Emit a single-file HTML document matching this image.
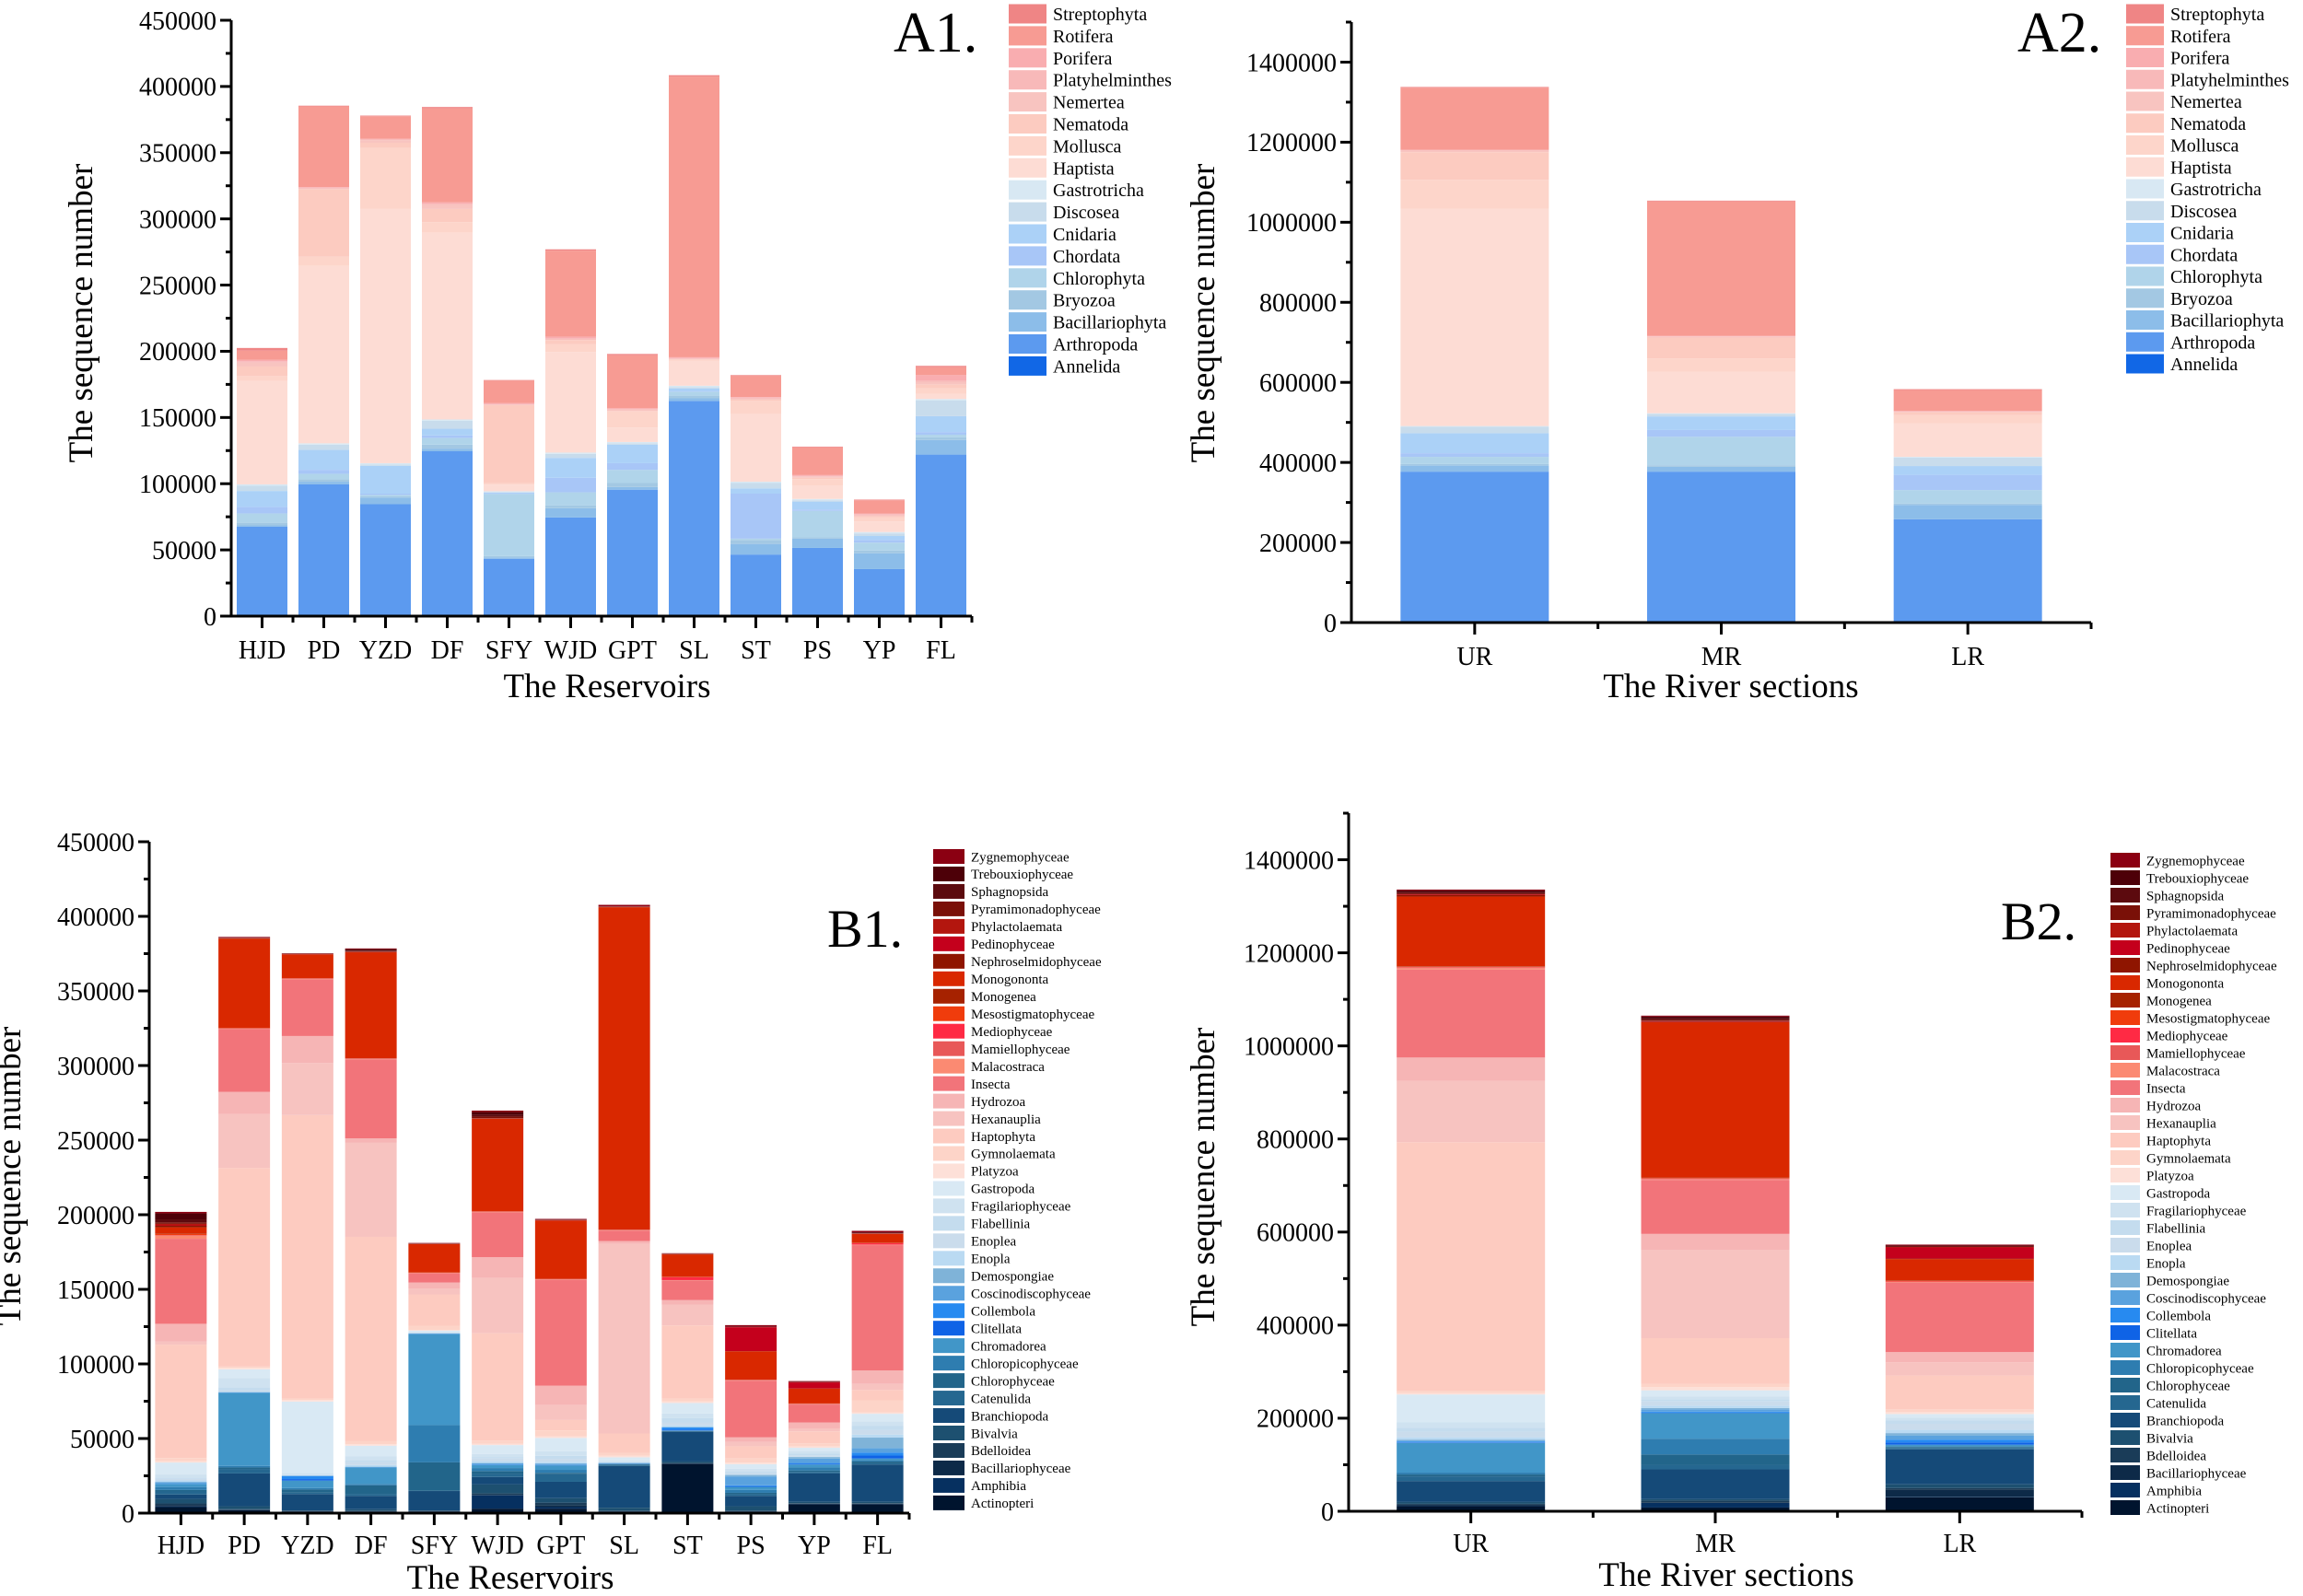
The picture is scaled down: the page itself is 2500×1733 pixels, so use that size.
<!DOCTYPE html>
<html><head><meta charset="utf-8"><style>
html,body{margin:0;padding:0;background:#fff;}
svg{display:block;font-family:"Liberation Serif",serif;}
</style></head><body>
<svg id="fig" width="2500" height="1733" viewBox="0 0 2500 1733" xmlns="http://www.w3.org/2000/svg"></svg>
<script>
// ---------- A1 data (thousands) ----------
const a1Sites = ["HJD","PD","YZD","DF","SFY","WJD","GPT","SL","ST","PS","YP","FL"];
const a1Annelida        = [0.5,0.5,0.5,0.5,0.3,0.5,0.5,0.5,0.5,0.5,0.5,1];
const a1Arthropoda      = [67,99,84,124,43,74,95,162,46,51,35,121];
const a1Bacillariophyta = [1,2,5,2,1,7,2,2,8,7,12,11];
const a1Bryozoa         = [2,2,1,3,1,2,3,2,3,1,2,2];
const a1Chlorophyta     = [7,4,1,5,47,10,10,3,1,20,6,2];
const a1Chordata        = [5,3,1,2,0.5,11,5,0.5,34,1,2,2];
const a1Cnidaria        = [12,15,21,5,0.5,15,14,2,4,6,3,12];
const a1Discosea        = [4,4,1,6,0.5,3,1,1,4,1,2,12];
const a1Gastrotricha    = [1,1,1,1,0.5,1,1,1,1,1,1,1];
const a1Haptista        = [78,134,192,141,5,76,11,19,51,10,8,4];
const a1Mollusca        = [4,7,46,8,1,6,12,0.5,10,5,3,4];
const a1Nematoda        = [7,51,4,10,59,3,0.5,0.5,1,1,1,3];
const a1Nemertea        = [3,0.5,2,3,0.5,0.5,1,0.5,1,1,1,2];
const a1Platyhelminthes = [1,0.5,0.5,1,0.5,1,0.5,0.5,0.5,0.5,0.5,1];
const a1Porifera        = [1,0.5,0.5,1,0.5,1,0.5,0.5,0.5,0.5,0.5,4];
const a1Rotifera        = [7,61,17,71,17,65,40,212,16,21,10,6];
const a1Streptophyta    = [2,0.5,0.5,1,0.5,1,1,1,0.5,0.5,0.5,1];
// ---------- A2 data ----------
const a2Sites = ["UR","MR","LR"];
const a2Annelida        = [1,1,1];
const a2Arthropoda      = [376,376,257];
const a2Bacillariophyta = [15,12,36];
const a2Bryozoa         = [4,4,3];
const a2Chlorophyta     = [18,71,34];
const a2Chordata        = [9,17,38];
const a2Cnidaria        = [50,34,22];
const a2Discosea        = [16,6,21];
const a2Gastrotricha    = [2,2,2];
const a2Haptista        = [543,104,84];
const a2Mollusca        = [72,33,20];
const a2Nematoda        = [69,52,7];
const a2Nemertea        = [4,2,2];
const a2Platyhelminthes = [1,1,1];
const a2Porifera        = [1,1,1];
const a2Rotifera        = [155,336,52];
const a2Streptophyta    = [2,2,2];
const aNames  = ["Annelida","Arthropoda","Bacillariophyta","Bryozoa","Chlorophyta","Chordata","Cnidaria","Discosea","Gastrotricha","Haptista","Mollusca","Nematoda","Nemertea","Platyhelminthes","Porifera","Rotifera","Streptophyta"];
const aColors = ["#1167e6","#5c9aef","#8cbde9","#a3c8e3","#b0d4ea","#a8c6f7","#abd1f7","#c8dcec","#d8e8f3","#fddcd4","#fdd5ca","#fccbc0","#f8c4c0","#f8b9b9","#f9adb0","#f79b93","#ef8585"];
const a1Series = [a1Annelida,a1Arthropoda,a1Bacillariophyta,a1Bryozoa,a1Chlorophyta,a1Chordata,a1Cnidaria,a1Discosea,a1Gastrotricha,a1Haptista,a1Mollusca,a1Nematoda,a1Nemertea,a1Platyhelminthes,a1Porifera,a1Rotifera,a1Streptophyta];
const a2Series = [a2Annelida,a2Arthropoda,a2Bacillariophyta,a2Bryozoa,a2Chlorophyta,a2Chordata,a2Cnidaria,a2Discosea,a2Gastrotricha,a2Haptista,a2Mollusca,a2Nematoda,a2Nemertea,a2Platyhelminthes,a2Porifera,a2Rotifera,a2Streptophyta];
// ---------- B data (bottom-up order) ----------
const bNames = ["Actinopteri","Amphibia","Bacillariophyceae","Bdelloidea","Bivalvia","Branchiopoda","Catenulida","Chlorophyceae","Chloropicophyceae","Chromadorea","Clitellata","Collembola","Coscinodiscophyceae","Demospongiae","Enopla","Enoplea","Flabellinia","Fragilariophyceae","Gastropoda","Platyzoa","Gymnolaemata","Haptophyta","Hexanauplia","Hydrozoa","Insecta","Malacostraca","Mamiellophyceae","Mediophyceae","Mesostigmatophyceae","Monogenea","Monogononta","Nephroselmidophyceae","Pedinophyceae","Phylactolaemata","Pyramimonadophyceae","Sphagnopsida","Trebouxiophyceae","Zygnemophyceae"];
const bColors = ["#00142e","#063060","#0d2a48","#1a3c58","#1d5070","#154a78","#256790","#22658a","#2e7db0","#4196c8","#0f63e6","#278af0","#5aa2de","#7fb3d8","#badaf2","#cadcec","#c4dcee","#cfe2f0","#d9e9f4","#fde0d8","#fdd4c8","#fdcbc0","#f7c3c0","#f6b5b5","#f2747a","#fb8a72","#e85858","#ff2a44","#f03c0c","#a62200","#d92800","#8f1500","#c4001c","#b3160e","#7a1008","#5c0a0e","#4d0008","#8b0012"];
const b1Actinopteri = [4,2,1,1,1,3,3,1,33,1,6,6];
const b1Amphibia = [0.5,0.2,0.2,0.2,0.2,9,1,0.2,0.2,0.2,0.2,0.2];
const b1Bacillariophyceae = [1,0.2,0.2,0.2,0.2,0.2,1,0.2,0.2,0.2,0.2,0.2];
const b1Bdelloidea = [1,0.2,0.2,0.2,0.2,1,2,0.2,0.2,0.2,0.2,0.2];
const b1Bivalvia = [3,2,0.2,1,0.2,6,3,2,1,3,1,1];
const b1Branchiopoda = [3,22,11,9,13,5,11,28,20,7,19,25];
const b1Catenulida = [2,3,1,1,0.2,2,5,1,0.2,1,1,1];
const b1Chlorophyceae = [1,1,2,6,19,2,1,0.2,0.2,1,1,1];
const b1Chloropicophyceae = [2,1,1,1,25,2,2,0.2,0.2,2,2,1];
const b1Chromadorea = [2,49,5,11,61,2,3,0.2,0.2,2,2,1];
const b1Clitellata = [0.1,0.1,1,0.1,0.1,0.1,0.1,0.1,0.5,0.5,0.5,2];
const b1Collembola = [0.1,0.1,2,0.1,0.1,0.1,0.1,0.1,1.5,0.5,0.5,2];
const b1Coscinodiscophyceae = [1,0.2,0.2,0.2,0.2,1,1,0.2,0.2,6,3,3];
const b1Demospongiae = [0.2,0.2,0.2,0.2,0.2,0.2,0.2,0.2,0.2,1,1,7];
const b1Enopla = [1,0.2,0.2,1,0.2,1,1,0.2,1,0.2,0.2,2];
const b1Enoplea = [1,1,0.2,2,0.2,2,2,0.2,2,1,1,3];
const b1Flabellinia = [1,2,0.2,1,0.2,1,2,0.2,3,1,1,3];
const b1Fragilariophyceae = [2,6,1,3,0.2,2,3,1,3,2,2,3];
const b1Gastropoda = [8,6,48,7,1,6,9,2,7,3,2,5];
const b1Platyzoa = [1,1,1,1,0.2,1,1,1,1,1,1,1];
const b1Gymnolaemata = [2,1,1,2,3,2,4,2,2,3,2,8];
const b1Haptophyta = [76,133,190,137,21,72,7,13,49,8,8,7];
const b1Hexanauplia = [2,36,35,63,4,37,10,127,14,3,2,4];
const b1Hydrozoa = [12,15,18,3,4,14,13,2,3,3,4,9];
const b1Insecta = [57,42,38,53,6,30,71,7,13,38,12,84];
const b1Malacostraca = [2,0.2,0.2,0.2,0.2,0.2,0.2,0.2,0.2,0.2,0.2,0.2];
const b1Mamiellophyceae = [0.2,0.2,0.2,0.2,0.2,0.2,0.2,0.2,0.2,0.2,0.2,0.2];
const b1Mediophyceae = [0.2,0.1,0.1,0.1,0.1,0.1,0.1,0.1,2,0.1,0.1,1];
const b1Mesostigmatophyceae = [1,0.1,0.1,0.1,0.1,0.1,0.1,0.1,0.1,0.1,0.1,0.1];
const b1Monogenea = [0.3,0.1,0.1,0.1,0.1,0.1,0.1,0.1,0.1,0.1,0.1,0.1];
const b1Monogononta = [4,60,16,71,19,62,39,216,15,19,10,6];
const b1Nephroselmidophyceae = [1,0.1,0.1,0.3,0.1,0.3,0.1,0.1,0.1,0.1,0.1,0.1];
const b1Pedinophyceae = [0.3,0.1,0.1,0.1,0.1,0.1,0.1,0.1,0.1,16,4,0.1];
const b1Phylactolaemata = [1,0.1,0.1,0.1,0.1,0.1,0.1,0.1,0.1,0.1,0.1,0.1];
const b1Pyramimonadophyceae = [1,0.1,0.1,0.3,0.1,1,0.1,0.1,0.1,0.1,0.1,0.1];
const b1Sphagnopsida = [2,0.1,0.1,0.3,0.1,1,0.1,0.1,0.1,0.1,0.1,0.1];
const b1Trebouxiophyceae = [4,0.1,0.1,1,0.1,2,0.1,0.1,0.1,0.1,0.1,0.5];
const b1Zygnemophyceae = [1,0.5,0.2,0.5,0.2,1,0.5,1,0.2,1,0.5,1];
const b2Actinopteri = [11,8,30];
const b2Amphibia = [1,10,1];
const b2Bacillariophyceae = [2,1,16];
const b2Bdelloidea = [2,4,3];
const b2Bivalvia = [4,3,8];
const b2Branchiopoda = [45,64,75];
const b2Catenulida = [10,10,3];
const b2Chlorophyceae = [4,22,2];
const b2Chloropicophyceae = [4,34,2];
const b2Chromadorea = [64,55,3];
const b2Clitellata = [1,1,5];
const b2Collembola = [2,2,6];
const b2Coscinodiscophyceae = [2,5,9];
const b2Demospongiae = [2,3,5];
const b2Enopla = [5,5,7];
const b2Enoplea = [12,9,13];
const b2Flabellinia = [8,5,7];
const b2Fragilariophyceae = [12,6,6];
const b2Gastropoda = [60,13,8];
const b2Platyzoa = [3,7,4];
const b2Gymnolaemata = [5,7,6];
const b2Haptophyta = [534,98,73];
const b2Hexanauplia = [132,190,28];
const b2Hydrozoa = [50,34,22];
const b2Insecta = [189,116,149];
const b2Malacostraca = [3,1,1];
const b2Mamiellophyceae = [1,1,1];
const b2Mediophyceae = [1,1,1];
const b2Mesostigmatophyceae = [1,1,1];
const b2Monogenea = [1,1,1];
const b2Monogononta = [150,334,46];
const b2Nephroselmidophyceae = [3,1,1];
const b2Pedinophyceae = [1,1,24];
const b2Phylactolaemata = [1,1,1];
const b2Pyramimonadophyceae = [2,2,1];
const b2Sphagnopsida = [3,3,1];
const b2Trebouxiophyceae = [3,4,1];
const b2Zygnemophyceae = [2,2,2];
const b1Series = [b1Actinopteri,b1Amphibia,b1Bacillariophyceae,b1Bdelloidea,b1Bivalvia,b1Branchiopoda,b1Catenulida,b1Chlorophyceae,b1Chloropicophyceae,b1Chromadorea,b1Clitellata,b1Collembola,b1Coscinodiscophyceae,b1Demospongiae,b1Enopla,b1Enoplea,b1Flabellinia,b1Fragilariophyceae,b1Gastropoda,b1Platyzoa,b1Gymnolaemata,b1Haptophyta,b1Hexanauplia,b1Hydrozoa,b1Insecta,b1Malacostraca,b1Mamiellophyceae,b1Mediophyceae,b1Mesostigmatophyceae,b1Monogenea,b1Monogononta,b1Nephroselmidophyceae,b1Pedinophyceae,b1Phylactolaemata,b1Pyramimonadophyceae,b1Sphagnopsida,b1Trebouxiophyceae,b1Zygnemophyceae];
const b2Series = [b2Actinopteri,b2Amphibia,b2Bacillariophyceae,b2Bdelloidea,b2Bivalvia,b2Branchiopoda,b2Catenulida,b2Chlorophyceae,b2Chloropicophyceae,b2Chromadorea,b2Clitellata,b2Collembola,b2Coscinodiscophyceae,b2Demospongiae,b2Enopla,b2Enoplea,b2Flabellinia,b2Fragilariophyceae,b2Gastropoda,b2Platyzoa,b2Gymnolaemata,b2Haptophyta,b2Hexanauplia,b2Hydrozoa,b2Insecta,b2Malacostraca,b2Mamiellophyceae,b2Mediophyceae,b2Mesostigmatophyceae,b2Monogenea,b2Monogononta,b2Nephroselmidophyceae,b2Pedinophyceae,b2Phylactolaemata,b2Pyramimonadophyceae,b2Sphagnopsida,b2Trebouxiophyceae,b2Zygnemophyceae];
const ticks450 = [0,50000,100000,150000,200000,250000,300000,350000,400000,450000];
const ticks1400 = [0,200000,400000,600000,800000,1000000,1200000,1400000];

const NS = "http://www.w3.org/2000/svg";
const svg = document.getElementById("fig");
function mk(tag, attrs, parent){
  const e = document.createElementNS(NS, tag);
  for (const k in attrs) e.setAttribute(k, attrs[k]);
  (parent||svg).appendChild(e);
  return e;
}

function chart(c){
  const g = mk("g", {});
  
  
  const y = v => c.y0 - (v / c.yMax) * (c.y0 - c.yTop);
  const band = (c.x1 - c.x0) / c.cats.length;
  const xc = i => c.x0 + band * (i + 0.5);
  c.cats.forEach((cat, i) => {
    let cum = 0;
    c.series.forEach((arr, s) => {
      const v = arr[i] * 1000;
      const r = mk("rect", {x: xc(i) - c.bw/2, y: y(cum + v), width: c.bw, height: Math.max(0, y(cum) - y(cum + v)), fill: c.colors[s]}, g);
      
      
      cum += v;
    });
  });
  const ax = mk("g", {stroke: "#000", "stroke-width": 3}, g);
  
  
  mk("line", {x1: c.x0, y1: c.y0, x2: c.x0, y2: c.yTop}, ax);
  mk("line", {x1: c.x0 - 12, y1: c.y0, x2: c.x1, y2: c.y0}, ax);
  c.ticks.forEach((t) => {
    mk("line", {x1: c.x0 - 12, y1: y(t), x2: c.x0, y2: y(t)}, ax);
    const tx = mk("text", {x: c.x0 - 16, y: y(t) + c.tf*0.35, "font-size": c.tf, "text-anchor": "end", stroke: "none", fill: "#000"}, g);
    tx.textContent = String(t);
    
    
    const mid = t + (c.ticks[1] - c.ticks[0]) / 2;
    if (mid <= c.yMax) mk("line", {x1: c.x0 - 6, y1: y(mid), x2: c.x0, y2: y(mid)}, ax);
  });
  c.cats.forEach((cat, i) => {
    mk("line", {x1: xc(i), y1: c.y0, x2: xc(i), y2: c.y0 + 13}, ax);
    mk("line", {x1: c.x0 + band*(i+1), y1: c.y0, x2: c.x0 + band*(i+1), y2: c.y0 + 7}, ax);
    const tx = mk("text", {x: xc(i), y: c.y0 + c.xlOff, "font-size": c.tf, "text-anchor": "middle"}, g);
    tx.textContent = cat;
    
    
  });
  const xt = mk("text", {x: c.xtX, y: c.xtY, "font-size": 37, "text-anchor": "middle"}, g);
  xt.textContent = c.xTitle;
  
  
  const yt = mk("text", {x: 0, y: 0, "font-size": 37, "text-anchor": "middle", transform: `translate(${c.ytX},${c.ytY}) rotate(-90)`, "xml:space": "preserve"}, g);
  yt.textContent = "The  sequence number";
  
  
  const pl = mk("text", {x: c.plX, y: c.plY, "font-size": c.plF}, g);
  pl.textContent = c.label;
  
  
  const lg = mk("g", {}, g);
  
  
  const n = c.names.length;
  for (let j = 0; j < n; j++) {
    const s = n - 1 - j;
    const cy = c.lgY + j * c.lgStep;
    const sw = mk("rect", {x: c.lgX, y: cy - c.lgH/2, width: c.lgW, height: c.lgH, fill: c.colors[s]}, lg);
    
    
    const lt = mk("text", {x: c.lgX + c.lgW + 7, y: cy + c.lgF*0.35, "font-size": c.lgF}, lg);
    lt.textContent = c.names[s];
    
    
  }
}

chart({id:"a1", cats:a1Sites, series:a1Series, names:aNames, colors:aColors,
  x0:251, x1:1055, y0:669, yTop:22, yMax:450000, ticks:ticks450, bw:55, tf:28, xlOff:46,
  xTitle:"The Reservoirs", xtX:659, xtY:757, ytX:100, ytY:340,
  label:"A1.", plX:970, plY:56, plF:62,
  lgX:1095, lgY:15, lgStep:23.9, lgW:41, lgH:21, lgF:20});
chart({id:"a2", cats:a2Sites, series:a2Series, names:aNames, colors:aColors,
  x0:1467, x1:2270, y0:676, yTop:24, yMax:1500000, ticks:ticks1400, bw:161, tf:28, xlOff:46,
  xTitle:"The River sections", xtX:1879, xtY:757, ytX:1318, ytY:340,
  label:"A2.", plX:2190, plY:56, plF:62,
  lgX:2308, lgY:15, lgStep:23.75, lgW:41, lgH:21, lgF:20});
chart({id:"b1", cats:a1Sites, series:b1Series, names:bNames, colors:bColors,
  x0:162, x1:987, y0:1643, yTop:914, yMax:450000, ticks:ticks450, bw:56, tf:28, xlOff:44,
  xTitle:"The Reservoirs", xtX:554, xtY:1725, ytX:22, ytY:1277,
  label:"B1.", plX:898, plY:1028, plF:58,
  lgX:1013, lgY:930, lgStep:18.97, lgW:34, lgH:16, lgF:15});
chart({id:"b2", cats:a2Sites, series:b2Series, names:bNames, colors:bColors,
  x0:1464, x1:2260, y0:1641, yTop:883, yMax:1500000, ticks:ticks1400, bw:161, tf:28, xlOff:44,
  xTitle:"The River sections", xtX:1874, xtY:1722, ytX:1318, ytY:1278,
  label:"B2.", plX:2172, plY:1020, plF:58,
  lgX:2291, lgY:934, lgStep:19.0, lgW:32, lgH:16, lgF:15});
</script>
</body></html>
